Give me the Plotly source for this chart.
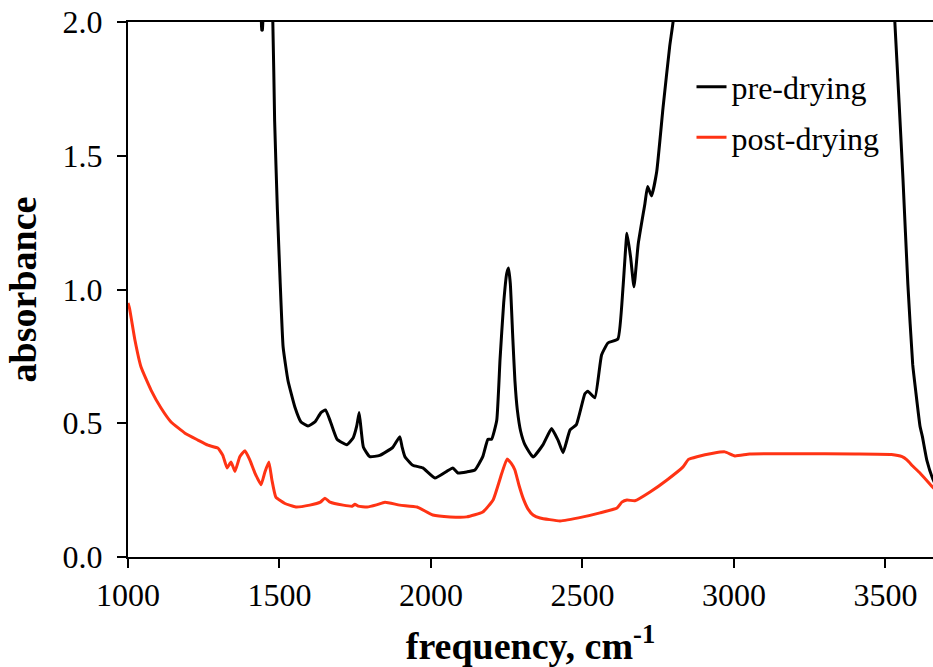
import plotly.graph_objects as go

# pre-drying (black) — values above 2.0 are clipped by the axis range
pre_x = [1000, 1200, 1400, 1437, 1441, 1444, 1448, 1460, 1472, 1478, 1484, 1493, 1502,
         1512, 1528, 1551, 1571, 1594, 1617, 1637, 1652, 1667, 1690, 1722, 1743, 1755,
         1763, 1770, 1777, 1798, 1831, 1874, 1897, 1905, 1914, 1940, 1973, 2013, 2052,
         2072, 2089, 2118, 2145, 2171, 2188, 2200, 2217, 2228, 2240, 2250, 2256, 2262,
         2270, 2277, 2285, 2296, 2310, 2337, 2370, 2398, 2420, 2436, 2459, 2480, 2508,
         2518, 2541, 2563, 2584, 2617, 2634, 2647, 2659, 2670, 2684, 2706, 2715, 2728,
         2745, 2766, 2788, 2799, 2830, 3000, 3400, 3515, 3531, 3545, 3558, 3574, 3590,
         3600, 3614, 3622, 3637, 3657, 3670]
pre_y = [2.6, 2.5, 2.4, 2.3, 1.97, 1.97, 2.3, 2.5, 2.1, 2.0, 1.63, 1.3, 1.035,
         0.785, 0.66, 0.56, 0.505, 0.49, 0.505, 0.54, 0.55, 0.51, 0.44, 0.42, 0.445, 0.49,
         0.54, 0.47, 0.41, 0.375, 0.38, 0.41, 0.45, 0.41, 0.375, 0.343, 0.333, 0.295, 0.32,
         0.333, 0.314, 0.318, 0.325, 0.375, 0.44, 0.44, 0.51, 0.74, 0.95, 1.06, 1.08, 1.02,
         0.82, 0.66, 0.55, 0.47, 0.42, 0.374, 0.42, 0.48, 0.435, 0.39, 0.475, 0.495, 0.61,
         0.62, 0.595, 0.755, 0.80, 0.815, 1.01, 1.21, 1.12, 1.01, 1.17, 1.32, 1.385, 1.35,
         1.44, 1.68, 1.91, 2.0, 2.4, 2.8, 2.8, 2.3, 2.0, 1.7, 1.41, 1.02, 0.72,
         0.62, 0.49, 0.45, 0.36, 0.29, 0.26]

# post-drying (red)
post_x = [1000, 1005, 1023, 1043, 1076, 1109, 1142, 1188, 1231, 1264, 1297, 1313, 1327,
          1340, 1353, 1369, 1386, 1402, 1419, 1439, 1452, 1465, 1475, 1488, 1518, 1554,
          1600, 1635, 1650, 1667, 1710, 1740, 1749, 1760, 1789, 1820, 1848, 1897, 1954,
          2006, 2063, 2118, 2171, 2205, 2234, 2251, 2265, 2277, 2290, 2304, 2320, 2337,
          2360, 2426, 2502, 2558, 2614, 2630, 2647, 2673, 2723, 2779, 2832, 2850, 2878,
          2931, 2970, 3003, 3052, 3200, 3400, 3520, 3555, 3571, 3590, 3614, 3657, 3670]
post_y = [0.95, 0.93, 0.81, 0.71, 0.624, 0.557, 0.505, 0.463, 0.437, 0.418, 0.407, 0.38, 0.333,
          0.355, 0.32, 0.375, 0.397, 0.363, 0.314, 0.27, 0.318, 0.355, 0.288, 0.224, 0.20, 0.187,
          0.194, 0.205, 0.22, 0.205, 0.194, 0.19, 0.197, 0.19, 0.187, 0.195, 0.205, 0.194, 0.187,
          0.157, 0.15, 0.15, 0.168, 0.213, 0.314, 0.366, 0.35, 0.325, 0.27, 0.22, 0.18, 0.157,
          0.146, 0.135, 0.15, 0.165, 0.183, 0.205, 0.213, 0.21, 0.243, 0.288, 0.337, 0.365, 0.375,
          0.388, 0.393, 0.378, 0.385, 0.386, 0.385, 0.383, 0.375, 0.363, 0.34, 0.314, 0.26, 0.245]

x_ticks = [1000, 1500, 2000, 2500, 3000, 3500]
y_ticks = [0.0, 0.5, 1.0, 1.5, 2.0]

SERIF = "Times New Roman, Liberation Serif, Times, serif"

fig = go.Figure()
fig.add_trace(go.Scatter(x=pre_x, y=pre_y, mode="lines", name="pre-drying",
                         legendgroup="a",
                         line=dict(color="black", width=3, shape="spline", smoothing=0.4)))
fig.add_trace(go.Scatter(x=post_x, y=post_y, mode="lines", name="post-drying",
                         legendgroup="b",
                         line=dict(color="#ff3314", width=3, shape="spline", smoothing=0.4)))

fig.update_layout(
    width=933, height=667,
    margin=dict(l=128, r=0, t=22, b=110),
    paper_bgcolor="white", plot_bgcolor="white",
    font=dict(family=SERIF, size=32, color="black"),
    showlegend=True,
    legend=dict(x=0.70, y=0.93, xanchor="left", yanchor="top",
                bgcolor="rgba(0,0,0,0)", font=dict(size=32, family=SERIF),
                traceorder="grouped", tracegroupgap=6, itemwidth=30),
    xaxis=dict(range=[1000, 3657], tickvals=x_ticks, ticks="outside", ticklen=9,
               tickwidth=2, tickcolor="black", showline=True, linecolor="black",
               linewidth=2, mirror=True, showgrid=False, zeroline=False,
               tickfont=dict(family=SERIF, size=32),
               title=dict(text="<b>frequency, cm<sup>-1</sup></b>",
                          font=dict(size=38, family=SERIF), standoff=22)),
    yaxis=dict(range=[0, 2.0], tickvals=y_ticks, tickformat=".1f", ticks="outside",
               ticklen=9, tickwidth=2, tickcolor="black", showline=True,
               linecolor="black", linewidth=2, showgrid=False, zeroline=False,
               ticklabelstandoff=8, tickfont=dict(family=SERIF, size=32),
               title=dict(text="<b>absorbance</b>", font=dict(size=38, family=SERIF),
                          standoff=14)),
)

fig.write_html("out.html")
